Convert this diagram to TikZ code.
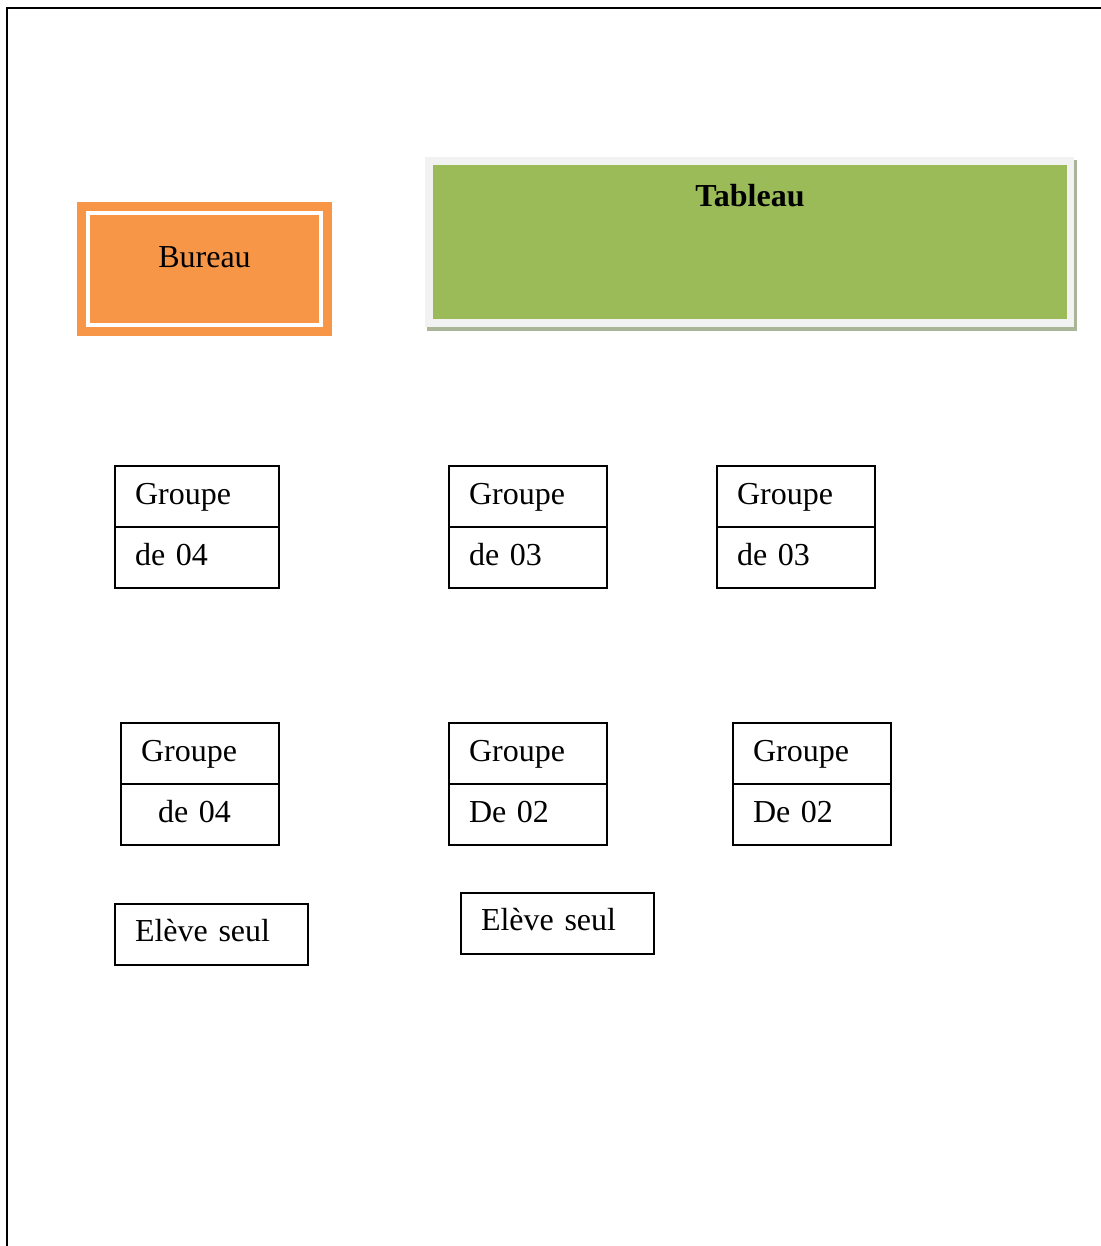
\documentclass[tikz,border=0pt]{standalone}
\usepackage{fontspec}
\setmainfont{Liberation Serif}
\usetikzlibrary{positioning}
\definecolor{deskorange}{HTML}{F79646}
\definecolor{boardgreen}{HTML}{9BBB59}
\definecolor{boardgray}{HTML}{F2F2F2}
\definecolor{boardshadow}{HTML}{A9B596}
\begin{document}
\begin{tikzpicture}[x=0.5pt,y=-0.5pt,
  font=\fontsize{16}{19}\selectfont]
  \tikzstyle{cell}=[draw,line width=1pt,outer sep=0pt,inner xsep=10pt,
    inner ysep=0pt,minimum height=30.5pt,align=left,
    text height=0.9em,text depth=0.15em]
  \tikzstyle{alone}=[cell,text width=76.5pt,text depth=0.23em]

  \useasboundingbox (0,0) rectangle (1101,1246);
  \draw[line width=1pt] (1101,8) -- (7,8) -- (7,1246);

  % bureau
  \node[fill=deskorange,minimum width=127.5pt,minimum height=67pt,
    inner sep=0pt,outer sep=0pt,text height=0.7em,text depth=0.82em,
    anchor=north west] (bur) at (77,202) {Bureau};
  \draw[white,line width=2pt] ([shift={(11,11.5)}]bur.north west)
    rectangle ([shift={(-11,-11)}]bur.south east);

  % tableau
  \fill[boardshadow] (427,160) rectangle (1077,331);
  \fill[boardgray] (425,157) rectangle (1074,327);
  \node[fill=boardgreen,minimum width=317pt,minimum height=77pt,
    inner sep=0pt,outer sep=0pt,anchor=north west] (tab) at (433,165) {};
  \node[font=\fontsize{16}{19}\selectfont\bfseries,anchor=base]
    (tabtxt) at ([yshift=-20.5pt]tab.north) {Tableau};

  % first row
  \node[cell,text width=62pt,anchor=north west] (g1) at (115,466) {Groupe};
  \node[cell,text width=62pt,below=0pt of g1] (g1b) {de 04};
  \node[cell,text width=59pt,anchor=north west] (g2) at (449,466) {Groupe};
  \node[cell,text width=59pt,below=0pt of g2] (g2b) {de 03};
  \node[cell,text width=59pt,anchor=north west] (g3) at (717,466) {Groupe};
  \node[cell,text width=59pt,below=0pt of g3] (g3b) {de 03};

  % second row
  \node[cell,text width=59pt,anchor=north west] (g4) at (121,723) {Groupe};
  \node[cell,text width=59pt,below=0pt of g4] (g4b) {\hspace*{8.5pt}de 04};
  \node[cell,text width=59pt,anchor=north west] (g5) at (449,723) {Groupe};
  \node[cell,text width=59pt,below=0pt of g5] (g5b) {De 02};
  \node[cell,text width=59pt,anchor=north west] (g6) at (733,723) {Groupe};
  \node[cell,text width=59pt,below=0pt of g6] (g6b) {De 02};

  % eleves seuls
  \node[alone,anchor=north west] (e1) at (115,904) {Elève seul};
  \node[alone,anchor=north west] (e2) at (461,893) {Elève seul};
\end{tikzpicture}
\end{document}
